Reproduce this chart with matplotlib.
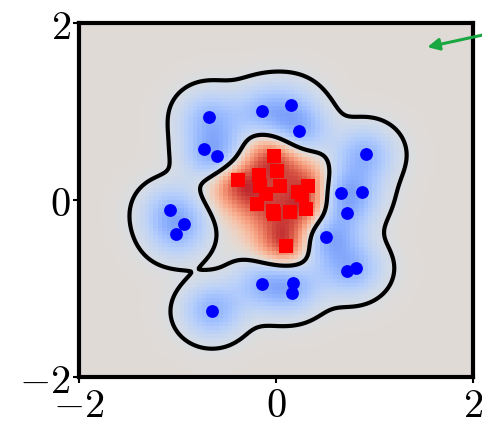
import numpy as np
import matplotlib
matplotlib.use("Agg")
import matplotlib.pyplot as plt
from matplotlib.colors import TwoSlopeNorm

plt.rcParams["mathtext.fontset"] = "cm"

# class samples
blue_x = [-0.68, -0.14, 0.15, 0.23, -0.73, -0.60, 0.91, 0.66, 0.87, 0.72,
          0.51, -1.08, -0.93, -1.02, 0.72, 0.81, -0.14, 0.17, 0.16, -0.65]
blue_y = [0.94, 1.00, 1.07, 0.78, 0.57, 0.50, 0.52, 0.08, 0.09, -0.15,
          -0.42, -0.11, -0.27, -0.39, -0.80, -0.77, -0.95, -0.94, -1.05, -1.26]
red_x = [-0.02, 0.01, -0.39, -0.17, -0.16, 0.04, -0.10, 0.22, 0.33, 0.26,
         -0.19, -0.03, 0.14, 0.31, -0.02, 0.10]
red_y = [0.50, 0.33, 0.22, 0.28, 0.16, 0.16, 0.07, 0.09, 0.16, 0.06,
         -0.05, -0.12, -0.14, -0.10, -0.16, -0.52]

ticks = [-2, 0, 2]
tick_labels = [r"$-2$", r"$0$", r"$2$"]

bx, by = np.array(blue_x), np.array(blue_y)
rx, ry = np.array(red_x), np.array(red_y)
P = np.c_[np.r_[rx, bx], np.r_[ry, by]]
t = np.r_[np.ones(len(rx)), -np.ones(len(bx))]

# GP regression on the +1 / -1 labels
ell, noise, level = 0.21, 0.1, -0.12


def rbf(A, B):
    d2 = ((A[:, None, :] - B[None, :, :]) ** 2).sum(-1)
    return np.exp(-d2 / (2 * ell ** 2))


alpha = np.linalg.solve(rbf(P, P) + noise * np.eye(len(P)), t)


def gp_mean(n):
    g = np.linspace(-2, 2, n)
    X, Y = np.meshgrid(g, g)
    Q = np.c_[X.ravel(), Y.ravel()]
    return X, Y, (rbf(Q, P) @ alpha).reshape(n, n)


_, _, mean_img = gp_mean(90)
X, Y, mean_c = gp_mean(300)

fig = plt.figure(figsize=(4.82, 4.27), dpi=100)
ax = fig.add_axes([0.164, 0.115, 0.817, 0.829])

ax.imshow(mean_img, extent=[-2, 2, -2, 2], origin="lower", cmap="coolwarm",
          norm=TwoSlopeNorm(vcenter=-0.03, vmin=-1.9, vmax=1.15),
          interpolation="nearest", aspect="auto")
ax.contour(X, Y, mean_c, levels=[level], colors="black", linewidths=3,
           linestyles="solid")

ax.scatter(bx, by, s=85, c="#0000ff", marker="o", zorder=3, linewidths=0)
ax.scatter(rx, ry, s=95, c="#ff0000", marker="s", zorder=3, linewidths=0)

ax.annotate("", xy=(1.51, 1.72), xytext=(2.25, 1.9), xycoords="data",
            textcoords="data", annotation_clip=False,
            arrowprops=dict(arrowstyle="-|>,head_length=0.7,head_width=0.35",
                            color="#1aa640", lw=2.2))

ax.set_xlim(-2, 2)
ax.set_ylim(-2, 2)
ax.set_xticks(ticks)
ax.set_xticklabels(tick_labels)
ax.set_yticks(ticks)
ax.set_yticklabels(tick_labels)
ax.tick_params(labelsize=29, length=4, width=1.5, pad=2)
for sp in ax.spines.values():
    sp.set_linewidth(3)

fig.savefig("out.png", dpi=100)
